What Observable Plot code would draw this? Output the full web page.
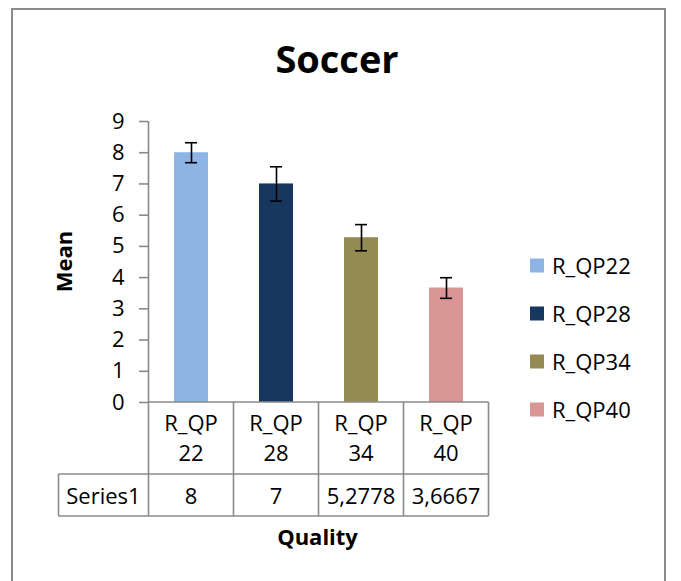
<!DOCTYPE html>
<html><head><meta charset="utf-8">
<script src="https://cdn.jsdelivr.net/npm/d3@7"></script>
<script src="https://cdn.jsdelivr.net/npm/@observablehq/plot@0.6"></script>
<style>
body{margin:0;background:#fff;}
#wrap{position:relative;width:681px;height:581px;overflow:hidden;font-family:"Open Sans",sans-serif;background:#fff;}
#frame{position:absolute;left:11px;top:8px;width:655px;height:640px;border:2px solid #8c8c8c;box-sizing:border-box;}
#wrap svg{position:absolute;left:0;top:0;}
</style></head>
<body><div id="wrap"><div id="frame"></div></div>
<script>
const title = "Soccer";
const yLabel = "Mean";
const xLabel = "Quality";
const seriesName = "Series1";
const categories = ["R_QP22", "R_QP28", "R_QP34", "R_QP40"];
const means = [8, 7, 5.2778, 3.6667];
const errors = [0.32, 0.55, 0.42, 0.33];
const tableValues = ["8", "7", "5,2778", "3,6667"];
const colors = ["#8eb4e3", "#17375e", "#948a54", "#d99694"];
const yTicks = [0, 1, 2, 3, 4, 5, 6, 7, 8, 9];

const data = categories.map((c, i) => ({cat: c, mean: means[i], lo: means[i] - errors[i], hi: means[i] + errors[i]}));
const gridColor = "#8a8a8a";

const chart = Plot.plot({
  width: 681, height: 410,
  marginLeft: 148, marginRight: 193, marginTop: 121, marginBottom: 8,
  style: {fontFamily: "Open Sans, sans-serif", fontSize: "22px", color: "#000", background: "transparent", overflow: "visible"},
  x: {domain: categories, paddingInner: 0.6, paddingOuter: 0.3, axis: null},
  y: {domain: [0, 9], axis: null},
  color: {domain: categories, range: colors},
  marks: [
    Plot.barY(data, {x: "cat", y: "mean", fill: "cat"}),
    Plot.ruleX(data, {x: "cat", y1: "lo", y2: "hi", stroke: "#000", strokeWidth: 1.6}),
    Plot.tickY(data, {x: "cat", y: "lo", stroke: "#000", strokeWidth: 1.6, insetLeft: 11, insetRight: 11}),
    Plot.tickY(data, {x: "cat", y: "hi", stroke: "#000", strokeWidth: 1.6, insetLeft: 11, insetRight: 11}),
    Plot.axisY({ticks: yTicks, tickSize: 9, tickPadding: 15, stroke: gridColor, strokeWidth: 1.6, strokeOpacity: 1, label: null, tickFormat: d => String(d), fill: "#000"})
  ]
});
document.getElementById("wrap").appendChild(chart);

const xs = chart.scale("x"), ys = chart.scale("y");
const step = xs.step, bw = xs.bandwidth;
const cellLeft = c => xs.apply(c) - (step - bw) / 2;
const xL = cellLeft(categories[0]);
const xR = cellLeft(categories[categories.length - 1]) + step;
const y0 = ys.apply(0), yTop = ys.apply(9);
const hdrH = 72, rowH = 42, nameW = 90;
const yRow = y0 + hdrH, yBot = yRow + rowH;

const svg = d3.select("#wrap").append("svg").attr("width", 681).attr("height", 581)
  .style("font-family", "Open Sans, sans-serif").style("overflow", "visible");
const line = (x1, y1, x2, y2) => svg.append("line").attr("x1", x1).attr("y1", y1).attr("x2", x2).attr("y2", y2)
  .attr("stroke", gridColor).attr("stroke-width", 1.6);

// axis line and table grid
line(xL, yTop, xL, yBot);
line(xL, y0, xR, y0);
line(xL - nameW, yRow, xR, yRow);
line(xL - nameW, yBot, xR, yBot);
line(xL - nameW, yRow, xL - nameW, yBot);
categories.forEach(c => line(cellLeft(c) + step, y0, cellLeft(c) + step, yBot));

// table text
categories.forEach((c, i) => {
  const cx = cellLeft(c) + step / 2;
  const m = c.match(/^(.*?)(\d+)$/);
  svg.append("text").attr("x", cx).attr("y", y0 + 29).attr("text-anchor", "middle").attr("font-size", 22).text(m[1]);
  svg.append("text").attr("x", cx).attr("y", y0 + 59).attr("text-anchor", "middle").attr("font-size", 22).text(m[2]);
  svg.append("text").attr("x", cx).attr("y", yRow + 30).attr("text-anchor", "middle").attr("font-size", 22).text(tableValues[i]);
});
svg.append("text").attr("x", xL - nameW / 2).attr("y", yRow + 30).attr("text-anchor", "middle").attr("font-size", 22).text(seriesName);

// titles
svg.append("text").attr("x", 337).attr("y", 73).attr("text-anchor", "middle").attr("font-size", 38).attr("font-weight", "bold").text(title);
svg.append("text").attr("transform", `translate(72,${(y0 + yTop) / 2}) rotate(-90)`).attr("text-anchor", "middle").attr("font-size", 22).attr("font-weight", "bold").text(yLabel);
svg.append("text").attr("x", (xL - nameW + xR) / 2 + 44).attr("y", 545).attr("text-anchor", "middle").attr("font-size", 22).attr("font-weight", "bold").text(xLabel);

// legend
categories.forEach((c, i) => {
  const cy = 265.5 + i * 48;
  svg.append("rect").attr("x", 530).attr("y", cy - 7).attr("width", 14).attr("height", 14).attr("fill", chart.scale("color").apply(c));
  svg.append("text").attr("x", 552).attr("y", cy + 8).attr("font-size", 22).text(c);
});
</script>
</body></html>
